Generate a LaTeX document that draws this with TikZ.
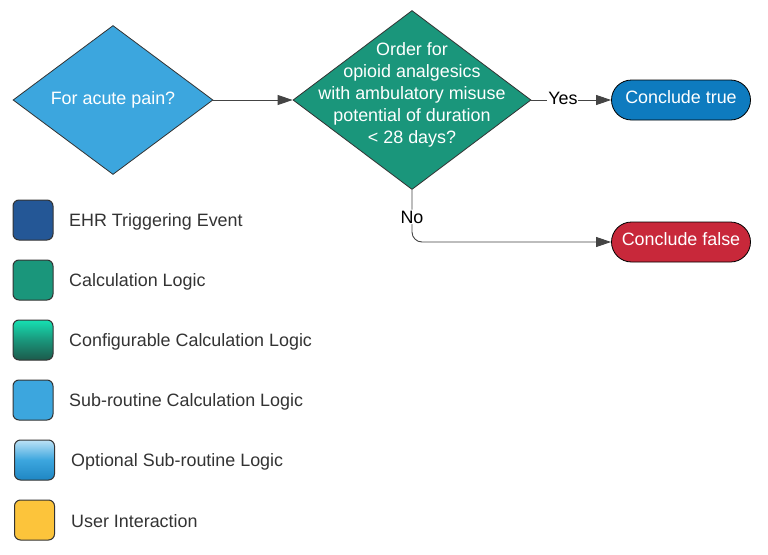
\documentclass[tikz,border=0pt]{standalone}
\usepackage{fontspec}
\setmainfont{Liberation Sans}
\usetikzlibrary{shapes.geometric,shapes.misc,arrows.meta}

\definecolor{ehrblue}{HTML}{245796}
\definecolor{calcteal}{HTML}{1A967B}
\definecolor{cfgtop}{HTML}{16E0B2}
\definecolor{cfgbot}{HTML}{1C5A4B}
\definecolor{subblue}{HTML}{3CA6DE}
\definecolor{opttop}{HTML}{BCE2F6}
\definecolor{optbot}{HTML}{1F86C3}
\definecolor{useryellow}{HTML}{FCC43B}
\definecolor{truefill}{HTML}{0E7BBF}
\definecolor{falsefill}{HTML}{C8283A}
\definecolor{edgegray}{HTML}{333333}
\definecolor{wiregray}{HTML}{444444}
\definecolor{legendtext}{HTML}{333333}

\begin{document}
\begin{tikzpicture}[x=1pt, y=-1pt,
		every node/.style={font=\fontsize{17.9}{22}\selectfont},
		question/.style={diamond, draw=edgegray, line width=0.8pt, inner sep=0pt},
		ending/.style={rounded rectangle, draw=black, line width=0.8pt, text=white,
			minimum width=139pt, minimum height=40pt, inner sep=0pt,
			text height=12pt, text depth=6pt},
		swatch/.style={rounded corners=6pt, draw=edgegray, line width=1pt,
			minimum width=40pt, minimum height=40pt, inner sep=0pt},
		legend/.style={anchor=west, text=legendtext, inner sep=0pt},
		wire/.style={draw=wiregray, line width=0.9pt, -{Triangle[length=15pt,width=10pt]}},
		tag/.style={fill=white, inner sep=1pt, text=black}]
		\useasboundingbox (0,0) rectangle (768,554);

		% Draw the decisions
		\node[question, fill=subblue, text=white, minimum width=200pt, minimum height=149pt]
			(acute) at (113,100) {For acute pain?};
		\node[question, fill=calcteal, minimum width=238pt, minimum height=179pt]
			(order) at (412,100) {};
		\node[text=white, align=center, inner sep=0pt] (ordertext) at ([yshift=5pt]order.center)
			{Order for\\opioid analgesics\\with ambulatory misuse\\potential of duration\\< 28 days?};

		% Draw the conclusions
		\node[ending, fill=truefill] (true) at (681,100) {Conclude true};
		\node[ending, fill=falsefill] (false) at (681,242) {Conclude false};

		% Draw the connectors
		\draw[wire] (acute.east) -- (order.west);
		\draw[wire] (order.east) -- node[tag, pos=0.395, yshift=2pt] (yes) {Yes} (true.west);
		\draw[wire, rounded corners=10pt] (order.south) |- node[tag, pos=0.25, yshift=-1pt] (no) {No} (false.west);

		% Draw the legend swatches
		\node[swatch, fill=ehrblue] (ehr) at (33,220) {};
		\node[swatch, fill=calcteal] (calc) at (33,280) {};
		\node[swatch, top color=cfgtop, bottom color=cfgbot, middle color=calcteal] (cfg) at (33,340) {};
		\node[swatch, fill=subblue] (sub) at (33,400) {};
		\node[swatch, top color=opttop, bottom color=optbot, middle color=subblue] (opt) at (34.5,460) {};
		\node[swatch, fill=useryellow] (user) at (34.5,520) {};

		% Draw the legend texts
		\node[legend] (ehrtext) at (69,221.5) {EHR Triggering Event};
		\node[legend] (calctext) at (69,281.5) {Calculation Logic};
		\node[legend] (cfgtext) at (69,341.5) {Configurable Calculation Logic};
		\node[legend] (subtext) at (69,401.5) {Sub-routine Calculation Logic};
		\node[legend] (opttext) at (71,461.5) {Optional Sub-routine Logic};
		\node[legend] (usertext) at (71,521.5) {User Interaction};
	\end{tikzpicture}
\end{document}
